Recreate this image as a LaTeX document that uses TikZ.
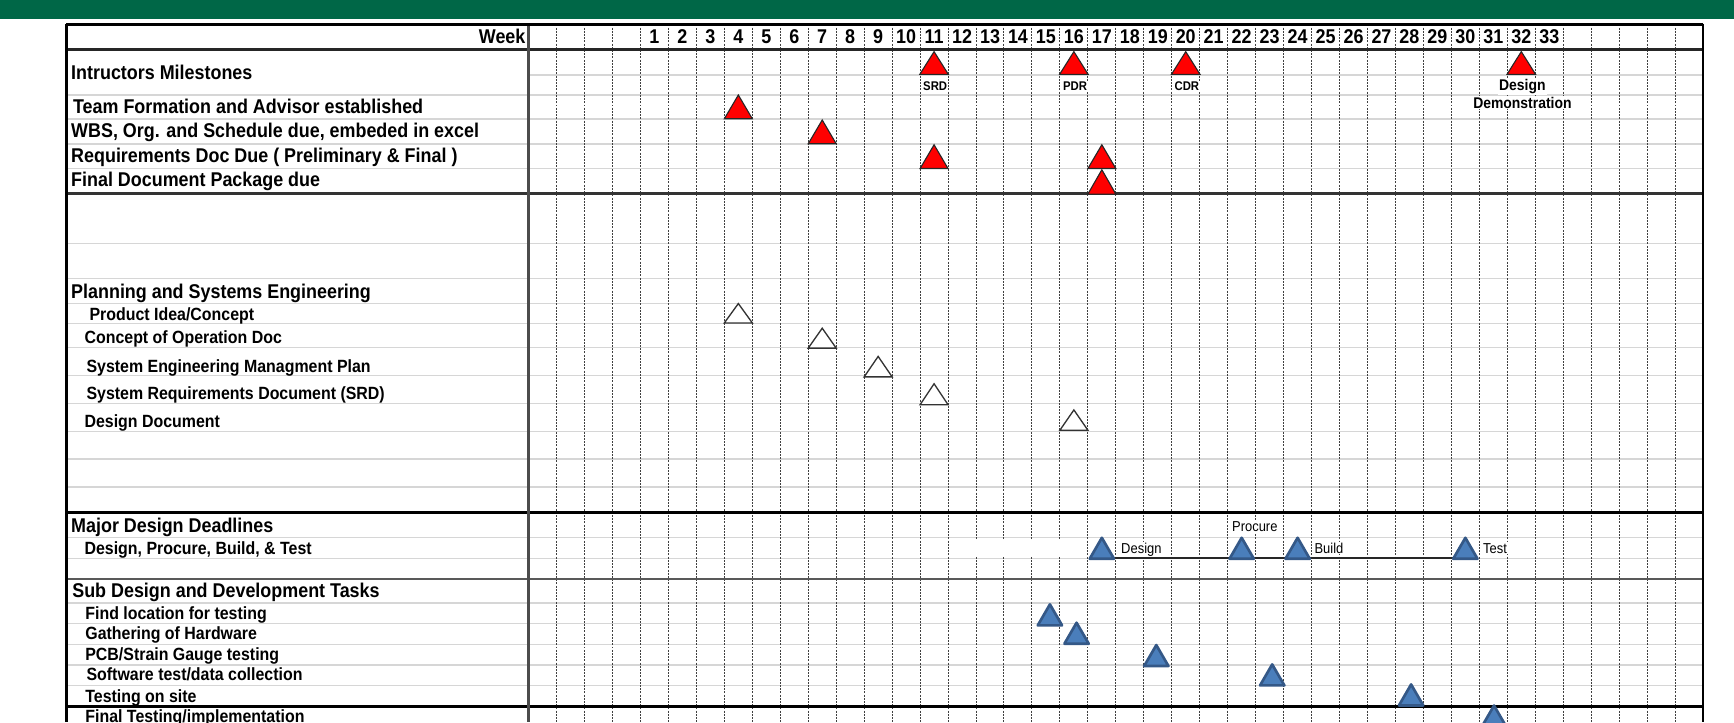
\documentclass[tikz,border=0pt]{standalone}
\usepackage{fontspec}
\setmainfont{Liberation Sans}
\newfontfamily\lblfont[FakeStretch=0.9]{Liberation Sans}
\definecolor{hdrgreen}{RGB}{0,103,71}
\definecolor{bluefill}{RGB}{74,126,187}
\definecolor{blueline}{RGB}{52,88,135}
\newcommand\wkc[1]{478+(#1+3.5)*25.286}
\newcommand\tri[5]{\draw[#1] ({#2-(#4)/2},#3) -- ({#2},{#3-(#5)}) -- ({#2+(#4)/2},#3) -- cycle;}
\tikzset{
  gridv/.style={black!75, line width=0.45bp, dash pattern=on 0.9bp off 0.55bp},
  lightrule/.style={black!16, line width=0.7bp},
  heavyrule/.style={black, line width=1.2bp},
  midrule/.style={black!65, line width=1bp},
  head/.style={anchor=base west, inner sep=0pt, font=\lblfont\bfseries\fontsize{9bp}{10bp}\selectfont},
  sub/.style={anchor=base west, inner sep=0pt, font=\lblfont\bfseries\fontsize{8bp}{9bp}\selectfont},
  wk/.style={anchor=base, inner sep=0pt, font=\lblfont\bfseries\fontsize{9bp}{10bp}\selectfont},
  ms/.style={anchor=base, inner sep=0.4bp, fill=white, font=\lblfont\bfseries\fontsize{5.7bp}{6.5bp}\selectfont},
  demo/.style={anchor=base, inner sep=0.4bp, fill=white, font=\lblfont\bfseries\fontsize{7bp}{8bp}\selectfont},
  tag/.style={anchor=base west, inner sep=0.4bp, fill=white, font=\lblfont\fontsize{6.5bp}{7.5bp}\selectfont},
  redtri/.style={fill=red, draw=black!85, line width=0.5bp},
  whitetri/.style={fill=white, draw=black!80, line width=0.6bp},
  bluetri/.style={fill=bluefill, draw=blueline, line width=1.2bp, line join=round},
  link/.style={black!85, line width=0.6bp}
}
\begin{document}
\begin{tikzpicture}[x=0.5bp,y=-0.5bp]
\useasboundingbox (0,0) rectangle (1568,653);
\clip (0,0) rectangle (1568,653);
% header band
\fill[hdrgreen] (0,0) rectangle (1568,17.5);
% light row rules
\foreach \yy in {85.9,107.6,130.2,152.2,220,252,274.3,292.4,314.4,339.7,364.7,390.3,415.3,440.6,486.2,504.9,545.5,564,582.6,601.3,620}
  \draw[lightrule] (60,\yy) -- (1540,\yy);
\draw[lightrule] (478,67.8) -- (1540,67.8);
% dashed week columns
\foreach \k in {1,...,41}
  \draw[gridv] ({478+\k*25.286},22) -- ({478+\k*25.286},653);
% white patch in design row
\fill[white] (870,487) rectangle (983,504.1);
% heavy rules and frame
\draw[heavyrule, black!85] (60,44.6) -- (1540,44.6);
\draw[heavyrule, black!80] (60,174.8) -- (1540,174.8);
\draw[heavyrule] (60,463.6) -- (1540,463.6);
\draw[midrule] (60,523.5) -- (1540,523.5);
\draw[heavyrule] (60,639) -- (1540,639);
\draw[heavyrule, black!70] (478,22) -- (478,653);
\draw[heavyrule] (60,22) -- (1540,22);
\draw[heavyrule] (60,21.4) -- (60,653);
\draw[heavyrule] (1540,21.4) -- (1540,653);
% week numbers
\foreach \k in {1,...,33}
  \node[wk] (w\k) at ({\wkc{\k}},39.2) {\k};
% row labels
\node[head, anchor=base east] (lWeek) at (475.5,39.2) {Week};
\node[head] (lIM) at (64,71.7) {Intructors Milestones};
\node[head] (lTF) at (65.7,102.5) {Team Formation and Advisor established};
\node[head] (lWBS) at (64,124.5) {WBS, Org. and Schedule due, embeded in excel};
\node[head] (lRD) at (64,147) {Requirements Doc Due ( Preliminary \& Final )};
\node[head] (lFD) at (64,168.8) {Final Document Package due};
\node[head] (lPSE) at (64,269.8) {Planning and Systems Engineering};
\node[sub] (lPI) at (80.6,289.4) {Product Idea/Concept};
\node[sub] (lCO) at (76.1,311) {Concept of Operation Doc};
\node[sub] (lSEMP) at (77.9,336.7) {System Engineering Managment Plan};
\node[sub] (lSRD) at (77.9,361.7) {System Requirements Document (SRD)};
\node[sub] (lDD) at (76.1,386.7) {Design Document};
\node[head] (lMDD) at (64,481.4) {Major Design Deadlines};
\node[sub] (lDPBT) at (76.1,501) {Design, Procure, Build, \& Test};
\node[head] (lSDD) at (65,540.1) {Sub Design and Development Tasks};
\node[sub] (lFL) at (76.8,560.6) {Find location for testing};
\node[sub] (lGH) at (76.8,578.7) {Gathering of Hardware};
\node[sub] (lPCB) at (76.8,597.4) {PCB/Strain Gauge testing};
\node[sub] (lSW) at (77.9,615.8) {Software test/data collection};
\node[sub] (lTS) at (76.8,634.8) {Testing on site};
\node[sub] (lFT) at (76.8,653.5) {Final Testing/implementation};
% milestone labels
\node[ms] (mSRD) at ({\wkc{11}+1},82) {SRD};
\node[ms] (mPDR) at ({\wkc{16}+1},82) {PDR};
\node[ms] (mCDR) at ({\wkc{20}+1},82) {CDR};
\node[demo] (mD1) at ({\wkc{32}+1},82) {Design};
\node[demo] (mD2) at ({\wkc{32}+1},98) {Demonstration};
% red milestone triangles
\tri{redtri}{\wkc{11}}{67.2}{25.8}{20.5}
\tri{redtri}{\wkc{16}}{67.2}{25.8}{20.5}
\tri{redtri}{\wkc{20}}{67.2}{25.8}{20.5}
\tri{redtri}{\wkc{32}}{67.2}{25.8}{20.5}
\tri{redtri}{\wkc{4}}{107.4}{25.3}{21.5}
\tri{redtri}{\wkc{7}}{130}{25.3}{21.5}
\tri{redtri}{\wkc{11}}{152.4}{25.3}{21.5}
\tri{redtri}{\wkc{17}}{152.4}{25.3}{21.5}
\tri{redtri}{\wkc{17}}{175.5}{25.3}{22}
% planning (open) triangles
\tri{whitetri}{\wkc{4}}{292}{25.3}{17.5}
\tri{whitetri}{\wkc{7}}{314.8}{25.3}{18}
\tri{whitetri}{\wkc{9}}{340.8}{25.3}{18.5}
\tri{whitetri}{\wkc{11}}{366}{25.3}{19}
\tri{whitetri}{\wkc{16}}{389}{25.3}{18.3}
% major design deadlines
\coordinate (cDes) at ({\wkc{17}+11},504.6);
\coordinate (cTst) at ({\wkc{30}+11},504.6);
\draw[link] (cDes) -- (cTst);
\tri{bluetri}{\wkc{17}}{505.3}{22}{19}
\tri{bluetri}{\wkc{22}}{505.3}{22}{19}
\tri{bluetri}{\wkc{24}}{505.3}{22}{19}
\tri{bluetri}{\wkc{30}}{505.3}{22}{19}
\node[tag] (tDes) at (1012.7,500.3) {Design};
\node[tag] (tPro) at (1113,480.8) {Procure};
\node[tag] (tBui) at (1187.5,500.3) {Build};
\node[tag] (tTst) at (1340,500.3) {Test};
% sub design tasks
\tri{bluetri}{949.4}{565.5}{22}{19}
\tri{bluetri}{973.5}{582.1}{22}{19}
\tri{bluetri}{1045.6}{602.3}{22}{19}
\tri{bluetri}{1150.4}{619.8}{22}{19}
\tri{bluetri}{1276}{637.9}{22}{19}
\tri{bluetri}{1351}{657}{22}{19}
\end{tikzpicture}
\end{document}
